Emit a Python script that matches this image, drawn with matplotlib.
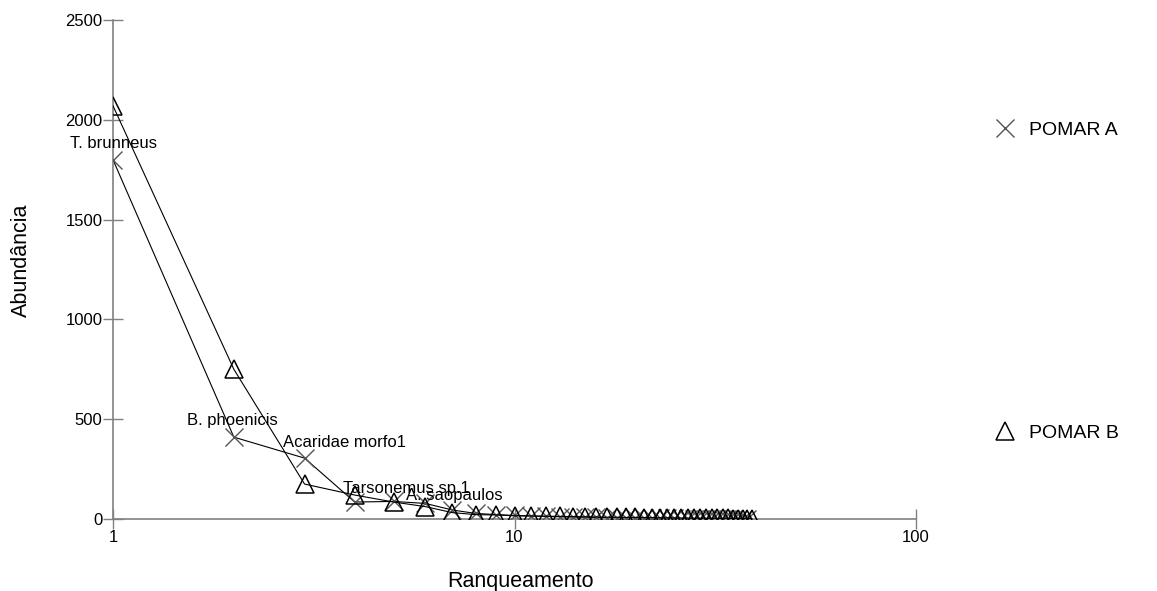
import matplotlib
matplotlib.use("Agg")
import matplotlib.pyplot as plt
from matplotlib.lines import Line2D
import numpy as np

plt.rcParams['font.family'] = ['Liberation Sans', 'DejaVu Sans']

# abundancias por rank
abund_a = [1800, 410, 305, 85, 88, 78, 45, 28, 22, 18, 15, 13, 11, 10, 9, 8, 7, 6,
           5, 5, 4, 4, 3, 3, 3, 2, 2, 2, 2, 2, 1, 1, 1, 1, 1, 1, 1, 1]
abund_b = [2070, 750, 175, 120, 85, 62, 32, 22, 20, 16, 15, 14, 13, 12, 11, 10, 9, 9,
           8, 8, 7, 7, 6, 6, 5, 5, 5, 4, 4, 4, 3, 3, 3, 3, 2, 2, 2, 2, 2]
rank_a = np.arange(1, len(abund_a) + 1)
rank_b = np.arange(1, len(abund_b) + 1)

# especies nomeadas: (nome, rank na serie A)
species = ["T. brunneus", "B. phoenicis", "Acaridae morfo1", "Tarsonemus sp.1", "A. saopaulos"]
species_rank = [1, 2, 3, 4, 5]
label_offsets = [(0, 12), (-1, 12), (29, 11.5), (37, 10), (44, 4)]  # pontos

y_ticks = [0, 500, 1000, 1500, 2000, 2500]
x_ticks = [1, 10, 100]

fig = plt.figure(figsize=(11.57, 5.91), dpi=100)
ax = fig.add_axes([113/1157, 1 - 519/591, 803/1157, 499/591])

ax.plot(rank_a, abund_a, color='black', lw=0.8, zorder=2)
ax.plot(rank_a, abund_a, ls='none', marker='x', ms=13, mew=1.0, color='#555555', zorder=3)
ax.plot(rank_b, abund_b, color='black', lw=0.8, marker='^', ms=13, mfc='none',
        mec='black', mew=1.1, zorder=3)

for name, r, off in zip(species, species_rank, label_offsets):
    ax.annotate(name, (r, abund_a[r - 1]), xytext=off, textcoords='offset points',
                ha='center', va='center', fontsize=12, zorder=4)

ax.set_xscale('log')
ax.set_xlim(1, 100)
ax.set_ylim(0, 2500)
ax.set_xticks(x_ticks)
ax.set_xticklabels([str(t) for t in x_ticks])
ax.xaxis.set_minor_locator(matplotlib.ticker.NullLocator())
ax.set_yticks(y_ticks)
ax.tick_params(direction='inout', length=14, width=1, color='#808080', labelsize=12, pad=0.5)
ax.tick_params(axis='x', pad=1)

for s in ['top', 'right']:
    ax.spines[s].set_visible(False)
for s in ['left', 'bottom']:
    ax.spines[s].set_color('#808080')
    ax.spines[s].set_linewidth(1.2)

ax.set_xlabel("Ranqueamento", fontsize=15.5)
ax.set_ylabel("Abundância", fontsize=15.5)
ax.xaxis.set_label_coords(0.508, -0.104)
ax.yaxis.set_label_coords(-0.101, 0.519)

h_a = Line2D([], [], ls='none', marker='x', ms=13, mew=1.0, color='#555555')
h_b = Line2D([], [], ls='none', marker='^', ms=13, mfc='none', mec='black', mew=1.1)
for h, lab, yy in [(h_a, "POMAR A", 130), (h_b, "POMAR B", 433)]:
    fig.legend([h], [lab], loc='center left', bbox_to_anchor=(995/1157, 1 - yy/591),
               frameon=False, fontsize=14, handlelength=1.0, handletextpad=0.75,
               borderpad=0, borderaxespad=0)

fig.savefig("out.png", dpi=100)
